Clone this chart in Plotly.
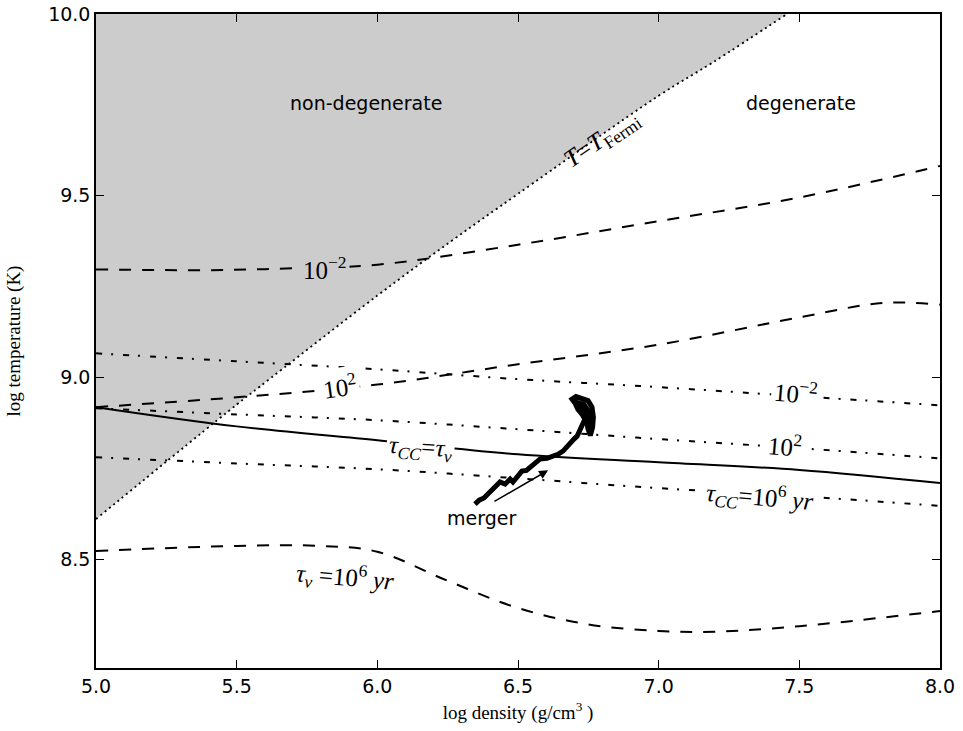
import plotly.graph_objects as go

# Fermi line (T = T_Fermi)
fermi_x = [5.0, 5.5, 5.583, 6.0, 6.27, 6.5, 7.0, 7.195, 7.456]
fermi_y = [8.61, 8.925, 8.975, 9.225, 9.379, 9.505, 9.775, 9.868, 10.0]

x_grid = [5.0, 5.5, 6.0, 6.5, 7.0, 7.5, 8.0]

# neutrino cooling timescale contours (dashed)
nu_m2_x = [5.0, 5.4, 5.7, 6.0, 6.5, 7.0, 7.5, 8.0]
nu_m2_y = [9.297, 9.295, 9.300, 9.31, 9.365, 9.43, 9.495, 9.582]
nu_p2_x = [5.0, 5.5, 6.0, 6.5, 7.0, 7.5, 7.8, 8.0]
nu_p2_y = [8.918, 8.945, 8.98, 9.036, 9.09, 9.165, 9.205, 9.200]
nu_p6_x = [5.0, 5.5, 5.8, 6.0, 6.25, 6.5, 6.75, 7.0, 7.2, 7.5, 8.0]
nu_p6_y = [8.522, 8.536, 8.536, 8.52, 8.44, 8.365, 8.32, 8.302, 8.300, 8.315, 8.357]

# carbon-burning timescale contours (dash-dot)
cc_m2_y = [9.066, 9.044, 9.022, 8.995, 8.973, 8.948, 8.923]
cc_p2_y = [8.915, 8.898, 8.882, 8.857, 8.830, 8.805, 8.777]
cc_p6_y = [8.780, 8.763, 8.747, 8.722, 8.695, 8.673, 8.646]

# tau_CC = tau_nu (solid)
eq_y = [8.918, 8.865, 8.827, 8.788, 8.766, 8.745, 8.709]

# merger track
track_x = [6.347, 6.362, 6.379, 6.400, 6.425, 6.436, 6.454, 6.472, 6.482, 6.500, 6.514,
           6.530, 6.543, 6.564, 6.578, 6.603, 6.624, 6.642, 6.660, 6.674, 6.685, 6.699,
           6.710, 6.720, 6.731, 6.738, 6.728, 6.713, 6.703, 6.692, 6.706, 6.728,
           6.749, 6.763, 6.768, 6.765, 6.757, 6.748, 6.745, 6.735, 6.718, 6.700,
           6.712, 6.735, 6.752, 6.758, 6.755, 6.748]
track_y = [8.651, 8.662, 8.668, 8.684, 8.703, 8.712, 8.706, 8.720, 8.712, 8.731, 8.742,
           8.744, 8.753, 8.766, 8.775, 8.777, 8.783, 8.788, 8.797, 8.810, 8.821, 8.830,
           8.838, 8.854, 8.871, 8.885, 8.898, 8.912, 8.929, 8.940, 8.947, 8.942,
           8.936, 8.918, 8.890, 8.862, 8.840, 8.860, 8.885, 8.905, 8.920, 8.935,
           8.930, 8.925, 8.905, 8.880, 8.858, 8.850]

x_ticks = [5.0, 5.5, 6.0, 6.5, 7.0, 7.5, 8.0]
x_ticklabels = ["5.0", "5.5", "6.0", "6.5", "7.0", "7.5", "8.0"]
y_ticks = [8.5, 9.0, 9.5, 10.0]
y_ticklabels = ["8.5", "9.0", "9.5", "10.0"]

SERIF = "Liberation Serif"
SANS = "DejaVu Sans"

fig = go.Figure()

# gray non-degenerate region
fig.add_trace(go.Scatter(x=fermi_x, y=[10.0] * len(fermi_x), mode="lines",
                         line=dict(width=0, color="rgba(0,0,0,0)"), hoverinfo="skip"))
fig.add_trace(go.Scatter(x=fermi_x, y=fermi_y, mode="lines", fill="tonexty",
                         fillcolor="#cccccc",
                         line=dict(color="black", width=1.8, dash="2px,3.5px", shape="spline")))

dash_style = dict(color="black", width=2, dash="12px,11px", shape="spline")
dashdot_style = dict(color="black", width=2, dash="6px,9px,2px,10px", shape="spline")

fig.add_trace(go.Scatter(x=nu_m2_x, y=nu_m2_y, mode="lines", line=dash_style))
fig.add_trace(go.Scatter(x=nu_p2_x, y=nu_p2_y, mode="lines", line=dash_style))
fig.add_trace(go.Scatter(x=nu_p6_x, y=nu_p6_y, mode="lines", line=dash_style))
fig.add_trace(go.Scatter(x=x_grid, y=cc_m2_y, mode="lines", line=dashdot_style))
fig.add_trace(go.Scatter(x=x_grid, y=cc_p2_y, mode="lines", line=dashdot_style))
fig.add_trace(go.Scatter(x=x_grid, y=cc_p6_y, mode="lines", line=dashdot_style))
fig.add_trace(go.Scatter(x=x_grid, y=eq_y, mode="lines",
                         line=dict(color="black", width=2, shape="spline")))
fig.add_trace(go.Scatter(x=track_x, y=track_y, mode="lines",
                         line=dict(color="black", width=5)))


def lab(x, y, text, bg="white", angle=0, size=25):
    fig.add_annotation(x=x, y=y, text=text, showarrow=False, textangle=angle,
                       font=dict(family=SERIF, size=size, color="black"),
                       bgcolor=bg, borderpad=2)


lab(5.814, 9.302, "10<sup>−2</sup>", bg="#cccccc")
lab(5.867, 8.975, "10<sup>2</sup>", angle=-8)
lab(5.885, 8.451, "<i>τ</i><sub><i>ν</i></sub> =10<sup>6</sup> <i>yr</i>", angle=5)
lab(7.488, 8.959, "10<sup>−2</sup>", angle=5)
lab(7.449, 8.813, "10<sup>2</sup>", angle=5)
lab(7.36, 8.670, "<i>τ</i><sub><i>CC</i></sub>=10<sup>6</sup> <i>yr</i>", angle=5)
lab(6.152, 8.805, "<i>τ</i><sub><i>CC</i></sub>=<i>τ</i><sub><i>ν</i></sub>", angle=4)
lab(6.80, 9.655, "<i>T</i>=<i>T</i><sub>Fermi</sub>", bg="rgba(0,0,0,0)", angle=-34)

fig.add_annotation(x=5.96, y=9.755, text="non-degenerate", showarrow=False,
                   font=dict(family=SANS, size=19, color="black"))
fig.add_annotation(x=7.506, y=9.755, text="degenerate", showarrow=False,
                   font=dict(family=SANS, size=19, color="black"))
fig.add_annotation(x=6.372, y=8.612, text="merger", showarrow=False,
                   font=dict(family=SANS, size=19, color="black"))
fig.add_annotation(x=6.607, y=8.744, ax=6.411, ay=8.656, axref="x", ayref="y",
                   xref="x", yref="y", text="", showarrow=True,
                   arrowhead=2, arrowsize=1.2, arrowwidth=1.5, arrowcolor="black")

axis_common = dict(showgrid=False, zeroline=False, showline=True, linecolor="black",
                   linewidth=1.5, mirror="ticks", ticks="inside", ticklen=8,
                   tickwidth=1, tickcolor="black", automargin=False,
                   tickfont=dict(family=SANS, size=19, color="black"))

fig.update_xaxes(range=[5.0, 8.0], tickvals=x_ticks, ticktext=x_ticklabels,
                 title=dict(text="log density (g/cm<sup>3</sup> )",
                            font=dict(family=SERIF, size=19, color="black"), standoff=10),
                 **axis_common)
fig.update_yaxes(range=[8.2, 10.0], tickvals=y_ticks, ticktext=y_ticklabels,
                 title=dict(text="log temperature (K)",
                            font=dict(family=SERIF, size=19, color="black"), standoff=22),
                 **axis_common)

fig.update_layout(width=963, height=731, showlegend=False,
                  margin=dict(l=96, r=23, t=14, b=63),
                  plot_bgcolor="white", paper_bgcolor="white")

fig.write_html("out.html")
